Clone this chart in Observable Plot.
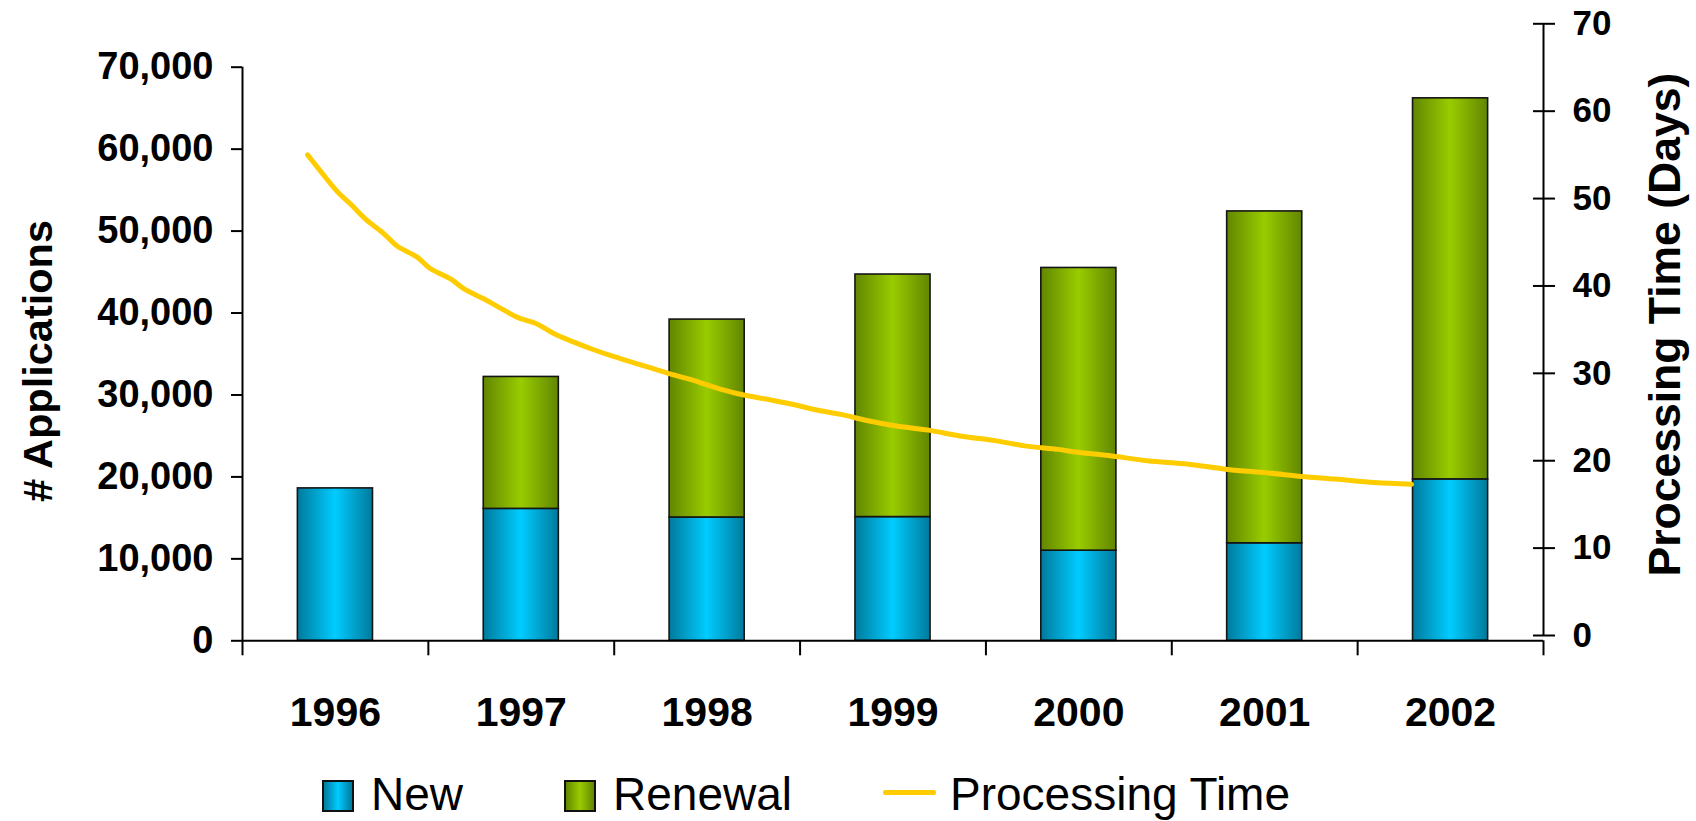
<!DOCTYPE html>
<html>
<head>
<meta charset="utf-8">
<script src="https://cdn.jsdelivr.net/npm/d3@7"></script>
<script src="https://cdn.jsdelivr.net/npm/@observablehq/plot@0.6"></script>
<style>
html, body { margin: 0; padding: 0; background: #fff; }
#wrap { position: relative; width: 1696px; height: 821px; overflow: hidden; font-family: "Liberation Sans", Arial, sans-serif; background: #fff; }
#wrap svg.layer { position: absolute; left: 0; top: 0; }
.lg { position: absolute; font-size: 46px; line-height: 46px; color: #000; white-space: nowrap; }
.sw { position: absolute; box-sizing: border-box; border: 2px solid #111; }
</style>
</head>
<body>
<svg width="0" height="0" style="position:absolute">
  <defs>
    <linearGradient id="gNew" x1="0" x2="1" y1="0" y2="0">
      <stop offset="0" stop-color="#007A9C"/>
      <stop offset="0.5" stop-color="#00CCFF"/>
      <stop offset="1" stop-color="#007A9C"/>
    </linearGradient>
    <linearGradient id="gRenewal" x1="0" x2="1" y1="0" y2="0">
      <stop offset="0" stop-color="#628600"/>
      <stop offset="0.5" stop-color="#99CC00"/>
      <stop offset="1" stop-color="#628600"/>
    </linearGradient>
  </defs>
</svg>
<div id="wrap"></div>
<script>
// ---- data ----
const years = [1996, 1997, 1998, 1999, 2000, 2001, 2002];
const newApps = [18600, 16100, 15050, 15100, 11000, 11900, 19700];
const renewalApps = [null, 16100, 24150, 29600, 34500, 40500, 46500];
const series = ["New", "Renewal"];
const seriesFills = ["url(#gNew)", "url(#gRenewal)"];
const leftTicks = [0, 10000, 20000, 30000, 40000, 50000, 60000, 70000];
const rightTicks = [0, 10, 20, 30, 40, 50, 60, 70];
// Processing time curve (x in year units, y in days)
const timeYear = [1995.85, 1995.91, 1996.01, 1996.08, 1996.17, 1996.26, 1996.33, 1996.44, 1996.51, 1996.62,
  1996.69, 1996.80, 1996.91, 1996.98, 1997.09, 1997.18, 1997.28, 1997.39, 1997.50, 1997.64,
  1997.79, 1997.91, 1998.04, 1998.16, 1998.33, 1998.47, 1998.59, 1998.72, 1998.86, 1999.01,
  1999.19, 1999.37, 1999.55, 1999.71, 1999.89, 1999.98, 2000.16, 2000.37, 2000.59, 2000.80,
  2001.02, 2001.20, 2001.38, 2001.59, 2001.79];
const timeDays = [55.0, 53.4, 50.8, 49.4, 47.5, 46.0, 44.6, 43.3, 42.0, 40.8,
  39.7, 38.5, 37.2, 36.4, 35.6, 34.5, 33.6, 32.7, 31.9, 31.0,
  30.0, 29.3, 28.4, 27.7, 27.0, 26.4, 25.8, 25.3, 24.6, 24.0,
  23.5, 22.8, 22.3, 21.7, 21.3, 21.0, 20.6, 20.0, 19.6, 19.0,
  18.6, 18.2, 17.9, 17.5, 17.3];

// ---- layout / style ----
const W = 1696, H = 821;
const FONT = "Liberation Sans, Arial, sans-serif";
const halfBar = 0.202;
const xDomain = [years[0] - 0.5, years[years.length - 1] + 0.5];
const boundaries = years.map(y => y - 0.5).concat([years[years.length - 1] + 0.5]);

const table = years.flatMap((year, i) => [
  {year, series: series[0], value: newApps[i]},
  {year, series: series[1], value: renewalApps[i]}
]).filter(d => d.value != null);

const stacked = Plot.stackY({x: "year", y: "value", fill: "series"});
const {x: _ignoredX, ...stackedRest} = stacked;

const main = Plot.plot({
  width: W, height: H,
  marginLeft: 242, marginRight: 153, marginTop: 66.7, marginBottom: 180.7,
  x: {domain: xDomain},
  y: {domain: [0, 70000]},
  color: {domain: series, range: seriesFills},
  style: {fontFamily: FONT, background: "white", overflow: "visible"},
  marks: [
    Plot.rectY(table, {...stackedRest, x1: d => d.year - halfBar, x2: d => d.year + halfBar, stroke: "#151515", strokeWidth: 1.6}),
    Plot.ruleY([0], {strokeWidth: 2}),
    Plot.ruleX([xDomain[0]], {y1: 0, y2: 70000, strokeWidth: 2}),
    Plot.axisY({ticks: leftTicks, tickSize: 11, tickPadding: 18, tickFormat: d3.format(","), fontSize: 38, fontWeight: "bold", strokeWidth: 2, label: null}),
    Plot.axisX({ticks: boundaries, tickSize: 15, tickFormat: () => "", strokeWidth: 2, label: null}),
    Plot.axisX({ticks: years, tickSize: 0, tickPadding: 56, tickFormat: d => String(d), fontSize: 41, fontWeight: "bold", label: null}),
    Plot.text(["# Applications"], {frameAnchor: "left", textAnchor: "middle", lineAnchor: "middle", rotate: -90, dx: -204, dy: 7, fontSize: 41.5, fontWeight: "bold", fill: "black"})
  ]
});
main.classList.add("layer");

const over = Plot.plot({
  width: W, height: H,
  marginLeft: 242, marginRight: 153, marginTop: 23.3, marginBottom: 186,
  x: {domain: xDomain, axis: null},
  y: {domain: [0, 70]},
  style: {fontFamily: FONT, background: "transparent", overflow: "visible"},
  marks: [
    Plot.line(timeDays, {x: timeYear, y: timeDays, stroke: "#FFCC00", strokeWidth: 5, curve: "catmull-rom"}),
    Plot.ruleX([xDomain[1]], {y1: 0, y2: 70, strokeWidth: 2}),
    Plot.axisY({anchor: "right", ticks: rightTicks, tickSize: 11, tickPadding: 18, fontSize: 35, fontWeight: "bold", strokeWidth: 2, label: null}),
    Plot.axisY({anchor: "right", ticks: rightTicks, tickSize: 11, dx: -11, tickFormat: () => "", strokeWidth: 2, label: null}),
    Plot.text(["Processing Time (Days)"], {frameAnchor: "right", textAnchor: "middle", lineAnchor: "middle", rotate: -90, dx: 122, dy: -5, fontSize: 44.5, fontWeight: "bold", fill: "black"})
  ]
});
over.classList.add("layer");

const wrap = document.getElementById("wrap");
wrap.appendChild(main);
wrap.appendChild(over);

// ---- legend ----
const legend = [
  {type: "box", fill: "linear-gradient(to right, #007A9C, #00CCFF, #007A9C)", label: series[0], sx: 322, tx: 371},
  {type: "box", fill: "linear-gradient(to right, #628600, #99CC00, #628600)", label: series[1], sx: 564, tx: 613},
  {type: "line", fill: "#FFCC00", label: "Processing Time", sx: 883, tx: 950}
];
for (const item of legend) {
  const sw = document.createElement("div");
  if (item.type === "box") {
    sw.className = "sw";
    sw.style.cssText = `left:${item.sx}px;top:780px;width:32px;height:32px;background:${item.fill};`;
  } else {
    sw.style.cssText = `position:absolute;left:${item.sx}px;top:789.5px;width:53px;height:5px;background:${item.fill};border-radius:2px;`;
  }
  wrap.appendChild(sw);
  const t = document.createElement("div");
  t.className = "lg";
  t.style.left = item.tx + "px";
  t.style.top = "771px";
  t.textContent = item.label;
  wrap.appendChild(t);
}
</script>
</body>
</html>
